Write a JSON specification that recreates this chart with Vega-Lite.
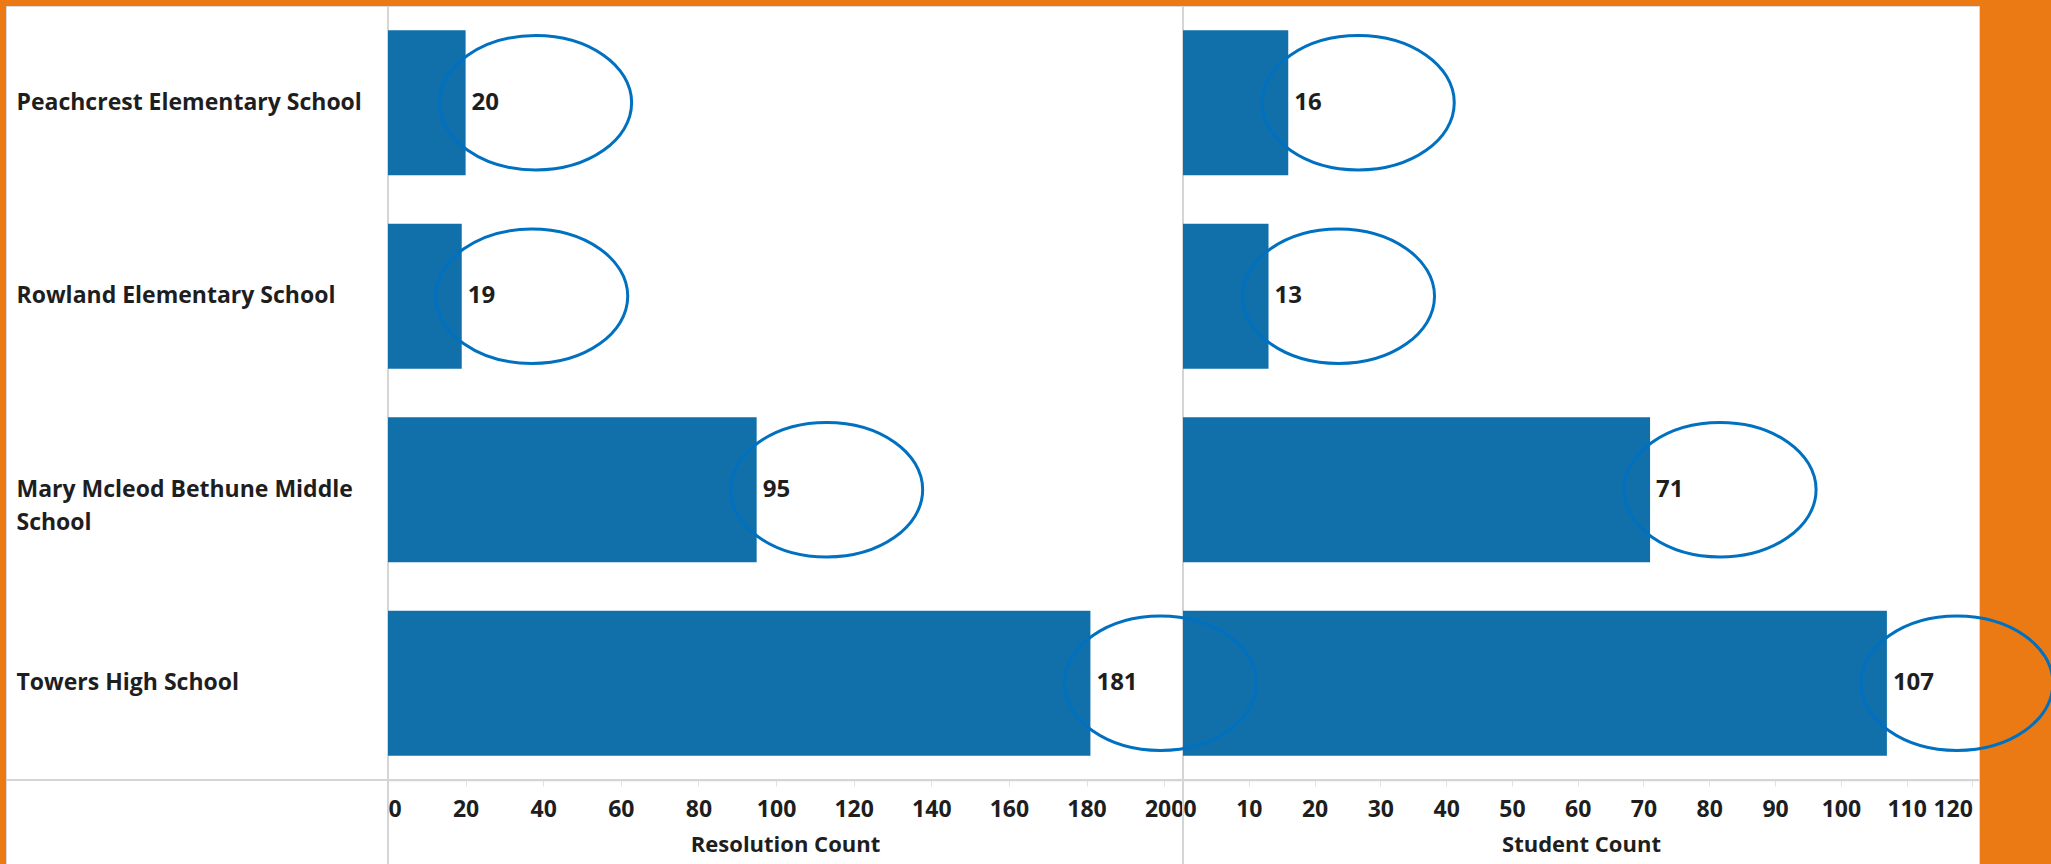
{
  "$schema": "https://vega.github.io/schema/vega-lite/v6.json",
  "width": 1973,
  "height": 858,
  "autosize": {"type": "none"},
  "padding": {"left": 6, "top": 6, "right": 72, "bottom": 0},
  "background": "#EC7A14",
  "data": {
    "values": [
      {"school": "Peachcrest Elementary School", "resolution": 20, "students": 16},
      {"school": "Rowland Elementary School", "resolution": 19, "students": 13},
      {"school": "Mary Mcleod Bethune Middle School", "resolution": 95, "students": 71},
      {"school": "Towers High School", "resolution": 181, "students": 107}
    ]
  },
  "layer": [
    {
      "encoding": {
        "x": {
          "field": "resolution",
          "type": "quantitative",
          "scale": {"domain": [0, 204.6], "range": [382, 1176], "nice": false},
          "axis": {"orient": "bottom", "title": "Resolution Count", "values": [0, 20, 40, 60, 80, 100, 120, 140, 160, 180, 200]}
        }
      },
      "layer": [
        {
          "mark": {"type": "rule", "color": "#d4d4d4", "strokeWidth": 1.5},
          "encoding": {"x": {"datum": 0, "type": "quantitative"}}
        },
        {
          "encoding": {
            "y": {
              "field": "school",
              "type": "nominal",
              "title": null,
              "scale": {
                "domain": ["Peachcrest Elementary School", "Rowland Elementary School", "Mary Mcleod Bethune Middle School", "Towers High School"],
                "range": [0, 774],
                "paddingInner": 0.25,
                "paddingOuter": 0.125
              },
              "axis": {
                "title": null,
                "labelExpr": "datum.value == 'Mary Mcleod Bethune Middle School' ? ['Mary Mcleod Bethune Middle', 'School'] : datum.value"
              }
            }
          },
          "layer": [
            {"mark": {"type": "bar", "color": "#1170AA"}},
            {
              "mark": {"type": "text", "align": "left", "baseline": "middle", "dx": 6, "font": "Open Sans", "fontWeight": "bold", "fontSize": 24, "color": "#1e1e1e"},
              "encoding": {"text": {"field": "resolution", "type": "quantitative"}}
            }
          ]
        }
      ]
    },
    {
      "encoding": {
        "x": {
          "field": "students",
          "type": "quantitative",
          "scale": {"domain": [0, 121], "range": [1177, 1973], "nice": false},
          "axis": {"orient": "bottom", "title": "Student Count", "values": [0, 10, 20, 30, 40, 50, 60, 70, 80, 90, 100, 110, 120]}
        }
      },
      "layer": [
        {
          "mark": {"type": "rule", "color": "#d4d4d4", "strokeWidth": 1.5},
          "encoding": {"x": {"datum": 0, "type": "quantitative"}}
        },
        {
          "encoding": {"y": {"field": "school", "type": "nominal", "title": null}},
          "layer": [
            {"mark": {"type": "bar", "color": "#1170AA"}},
            {
              "mark": {"type": "text", "align": "left", "baseline": "middle", "dx": 6, "font": "Open Sans", "fontWeight": "bold", "fontSize": 24, "color": "#1e1e1e"},
              "encoding": {"text": {"field": "students", "type": "quantitative"}}
            }
          ]
        }
      ]
    },
    {
      "mark": {
        "type": "point",
        "shape": "M 1 0 C 1 0.3866 0.5523 0.7 0 0.7 C -0.5523 0.7 -1 0.3866 -1 0 C -1 -0.3866 -0.5523 -0.7 0 -0.7 C 0.5523 -0.7 1 -0.3866 1 0 Z",
        "size": 36864,
        "filled": false,
        "stroke": "#0070C0",
        "strokeWidth": 3,
        "opacity": 1,
        "xOffset": 70
      },
      "encoding": {
        "x": {"field": "resolution", "type": "quantitative", "scale": {"domain": [0, 204.6], "range": [382, 1176], "nice": false}, "axis": null},
        "y": {"field": "school", "type": "nominal", "title": null}
      }
    },
    {
      "mark": {
        "type": "point",
        "shape": "M 1 0 C 1 0.3866 0.5523 0.7 0 0.7 C -0.5523 0.7 -1 0.3866 -1 0 C -1 -0.3866 -0.5523 -0.7 0 -0.7 C 0.5523 -0.7 1 -0.3866 1 0 Z",
        "size": 36864,
        "filled": false,
        "stroke": "#0070C0",
        "strokeWidth": 3,
        "opacity": 1,
        "xOffset": 70
      },
      "encoding": {
        "x": {"field": "students", "type": "quantitative", "scale": {"domain": [0, 121], "range": [1177, 1973], "nice": false}, "axis": null},
        "y": {"field": "school", "type": "nominal", "title": null}
      }
    },
    {
      "mark": {"type": "rule", "color": "#d4d4d4", "strokeWidth": 1.5},
      "encoding": {"y": {"datum": "Towers High School", "type": "nominal", "bandPosition": 1.1667, "title": null}}
    }
  ],
  "resolve": {"scale": {"x": "independent"}, "axis": {"x": "independent"}},
  "config": {
    "view": {"fill": "white", "stroke": "#d9d9d9"},
    "font": "Open Sans",
    "axis": {
      "grid": false,
      "labelFont": "Open Sans",
      "labelFontWeight": "bold",
      "labelFontSize": 23,
      "labelColor": "#1e1e1e",
      "titleFont": "Open Sans",
      "titleFontWeight": "bold",
      "titleFontSize": 22,
      "titleColor": "#1e1e1e",
      "domainColor": "#d4d4d4",
      "tickColor": "#e0e0e0"
    },
    "axisX": {
      "offset": -84,
      "tickSize": 6,
      "labelPadding": 12,
      "titlePadding": 13,
      "labelFlush": 10,
      "labelOverlap": false,
      "domainWidth": 1.5
    },
    "axisY": {
      "offset": -382,
      "domain": false,
      "ticks": false,
      "labelAlign": "left",
      "labelPadding": 372,
      "labelLimit": 400,
      "labelLineHeight": 33
    }
  }
}
